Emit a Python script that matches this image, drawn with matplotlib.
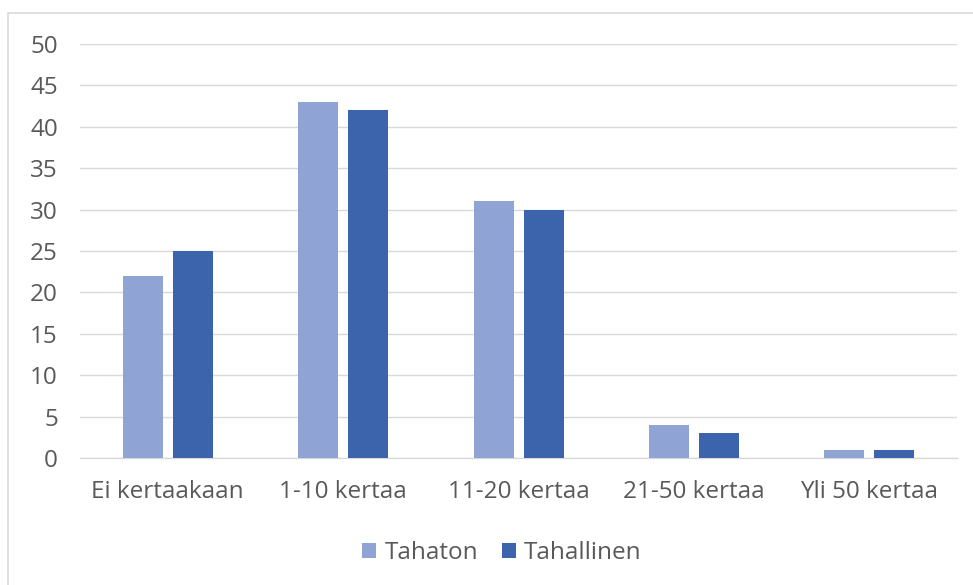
import matplotlib.pyplot as plt
import numpy as np
from matplotlib.patches import Rectangle

categories = ["Ei kertaakaan", "1-10 kertaa", "11-20 kertaa", "21-50 kertaa", "Yli 50 kertaa"]
tahaton = [22, 43, 31, 4, 1]
tahallinen = [25, 42, 30, 3, 1]
series_names = ["Tahaton", "Tahallinen"]

plt.rcParams['font.family'] = ['Open Sans', 'DejaVu Sans']
text_color = "#595959"
fs = 17.5

fig = plt.figure(figsize=(9.73, 5.85), dpi=100)
ax = fig.add_axes([0.0822, 0.2171, 0.9014, 0.7077])

# chart border (clipped on right and bottom like the reference)
fig.patches.append(Rectangle((8 / 973, -0.05), 1.0, 1 - 13 / 585 + 0.05,
                             transform=fig.transFigure, fill=False,
                             edgecolor="#D9D9D9", linewidth=1.2))

x = np.arange(len(categories))
w = 0.228
gap = 0.057
ax.bar(x - (w + gap) / 2, tahaton, w, color="#8FA4D4", label=series_names[0], zorder=3)
ax.bar(x + (w + gap) / 2, tahallinen, w, color="#3B64AD", label=series_names[1], zorder=3)

ax.set_xlim(-0.5, len(categories) - 0.5)
ax.set_ylim(0, 50)
ax.set_yticks(range(0, 51, 5))
ax.set_xticks(x)
ax.set_xticklabels(categories)
ax.grid(axis="y", color="#D9D9D9", linewidth=1.0, zorder=0)
for s in ["top", "right", "left"]:
    ax.spines[s].set_visible(False)
ax.spines["bottom"].set_color("#D9D9D9")
ax.spines["bottom"].set_linewidth(1.0)
ax.tick_params(axis="both", length=0, labelsize=fs, labelcolor=text_color)
ax.tick_params(axis="y", pad=16)
ax.tick_params(axis="x", pad=16)

fig.legend(loc="center", bbox_to_anchor=(0.516, 0.055), ncol=2, frameon=False,
           fontsize=fs, labelcolor=text_color, handlelength=0.55, handleheight=0.55,
           handletextpad=0.35, columnspacing=1.0)

plt.savefig("out.png", dpi=100)
